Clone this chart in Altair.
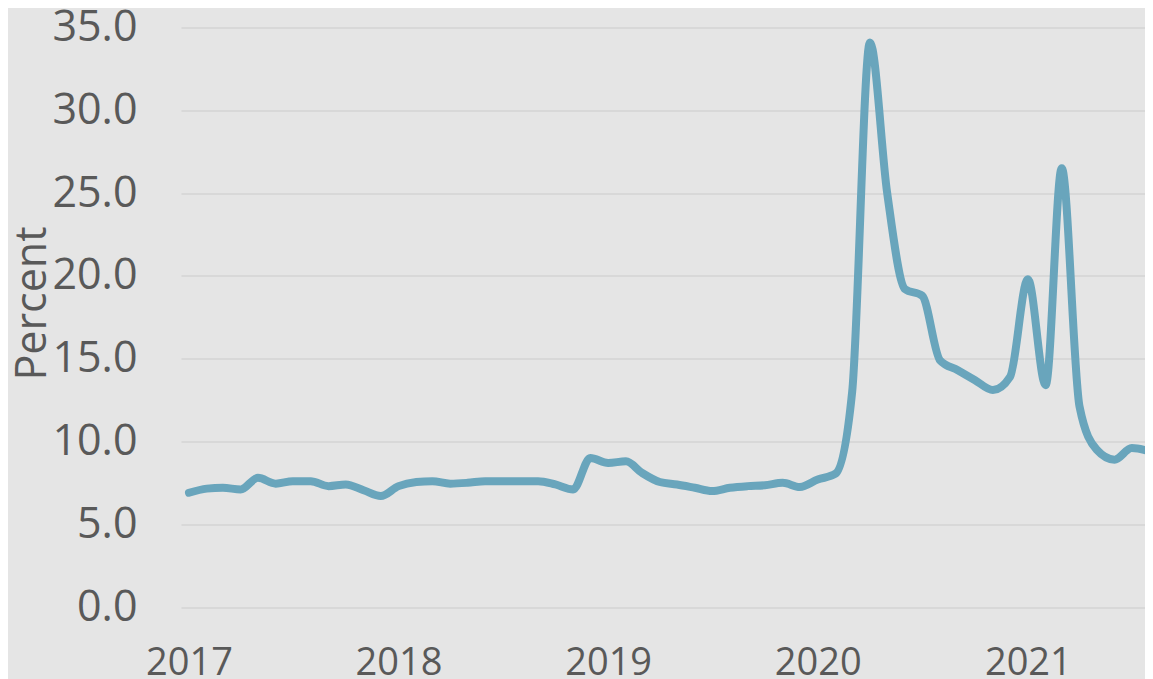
import altair as alt
import pandas as pd

# Monthly values (percent), Jan 2017 – Aug 2021
years = [2017, 2018, 2019, 2020, 2021]
values_2017 = [6.9, 7.15, 7.2, 7.1, 7.8, 7.45, 7.6, 7.6, 7.3, 7.4, 7.05, 6.7]
values_2018 = [7.3, 7.55, 7.6, 7.45, 7.5, 7.6, 7.6, 7.6, 7.6, 7.4, 7.1, 9.0]
values_2019 = [8.7, 8.8, 8.1, 7.55, 7.4, 7.2, 7.0, 7.2, 7.3, 7.35, 7.5, 7.25]
values_2020 = [7.7, 8.05, 13.0, 34.1, 25.0, 19.2, 18.8, 14.9, 14.3, 13.7, 13.1, 13.9]
values_2021 = [19.8, 13.4, 26.5, 12.1, 9.5, 8.9, 9.6, 9.4]
y_ticks = [0, 5, 10, 15, 20, 25, 30, 35]

dates, values = [], []
for yr, vals in zip(years, [values_2017, values_2018, values_2019, values_2020, values_2021]):
    for m, v in enumerate(vals, start=1):
        dates.append(f"{yr}-{m:02d}-01T00:00:00")
        values.append(v)

df = pd.DataFrame({"date": dates, "value": values})

TEXT = "#595959"
FONT = "Open Sans"

chart = alt.Chart(df).mark_line(
    color="#69a5bc", strokeWidth=8, interpolate="monotone", strokeCap="round", strokeJoin="round"
).encode(
    x=alt.X(
        "date:T",
        scale=alt.Scale(domain=[alt.DateTime(year=2016, month=12, date=18, hours=2),
                                alt.DateTime(year=2021, month=7, date=24)]),
        axis=alt.Axis(format="%Y", tickCount="year", title=None, grid=False, ticks=False,
                      tickSize=0, domain=False, labelFontSize=38, labelPadding=37,
                      labelColor=TEXT, labelFont=FONT, labelFlush=False),
    ),
    y=alt.Y(
        "value:Q",
        scale=alt.Scale(domain=[0, 35], nice=False),
        axis=alt.Axis(values=y_ticks, format=".1f", title="Percent", grid=True,
                      gridColor="#d8d8d8", gridWidth=2, ticks=False, tickSize=0, domain=False,
                      labelFontSize=43, labelPadding=44, labelColor=TEXT, labelFont=FONT,
                      labelFontWeight="normal",
                      titleFontSize=43, titleFont=FONT, titleColor=TEXT, titleFontWeight="normal",
                      titleAngle=270, titleX=-136, titleY=275.5, titleAlign="center",
                      titleBaseline="alphabetic"),
    ),
).properties(
    width=964,
    height=579.5,
    autosize=alt.AutoSizeParams(type="none"),
    padding={"left": 173, "top": 19.5, "right": 0, "bottom": 72},
    background="#e5e5e5",
).configure_view(stroke=None, fill="#e5e5e5")

chart.save("out.html", embed_options={"renderer": "svg", "actions": False})
